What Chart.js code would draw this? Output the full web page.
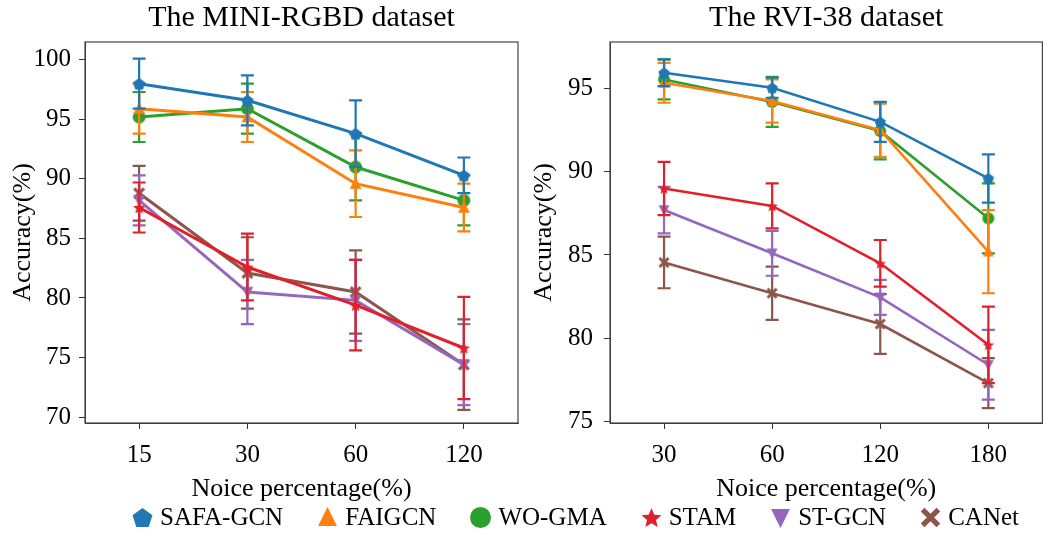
<!DOCTYPE html>
<html lang="en">
<head>
    <meta charset="UTF-8">
    <title>Accuracy vs noise percentage</title>
    <script src="https://cdn.jsdelivr.net/npm/chart.js"></script>
    <style>
        body { margin: 0; background: #fff; width: 1051px; height: 536px; position: relative; overflow: hidden;
               font-family: "Liberation Serif", "DejaVu Serif", serif; }
        #leftWrap { position: absolute; left: 0; top: 0; width: 530px; height: 505px; }
        #rightWrap { position: absolute; left: 525px; top: 0; width: 526px; height: 505px; }
        #legend { position: absolute; left: 131px; top: 502px; height: 30px; width: max-content;
                  display: flex; align-items: center; white-space: nowrap; }
        .item { display: flex; align-items: center; flex-shrink: 0; margin-right: 33px; color: #000;
                font-family: "Liberation Serif", serif; font-size: 25px; }
        .item canvas { margin-right: 6px; }
    </style>
</head>
<body>
    <div id="leftWrap"><canvas id="leftChart" width="530" height="505"></canvas></div>
    <div id="rightWrap"><canvas id="rightChart" width="526" height="505"></canvas></div>
    <div id="legend"></div>

    <script>
        // categories
        const miniNoise = ['15', '30', '60', '120'];
        const rviNoise = ['30', '60', '120', '180'];
        const miniTicks = [70, 75, 80, 85, 90, 95, 100];
        const rviTicks = [75, 80, 85, 90, 95];

        const names = ['SAFA-GCN', 'FAIGCN', 'WO-GMA', 'STAM', 'ST-GCN', 'CANet'];
        const colors = ['#1f77b4', '#ff7f0e', '#2ca02c', '#e0202a', '#9467bd', '#8c564b'];
        const shapes = ['pentagon', 'triangle', 'circle', 'star', 'triangleDown', 'x'];

        // MINI-RGBD values and errors
        const safaMini = [98.0, 96.6, 93.8, 90.3];
        const faiMini = [95.9, 95.2, 89.6, 87.6];
        const woMini = [95.2, 95.9, 91.0, 88.2];
        const stamMini = [87.6, 82.6, 79.4, 75.8];
        const stMini = [88.2, 80.5, 79.8, 74.4];
        const caMini = [88.8, 82.1, 80.5, 74.4];
        const safaMiniErr = [2.1, 2.1, 2.8, 1.5];
        const faiMiniErr = [2.1, 2.1, 2.8, 2.0];
        const woMiniErr = [2.1, 2.1, 2.8, 2.1];
        const stamMiniErr = [2.1, 2.8, 3.8, 4.3];
        const stMiniErr = [2.1, 2.7, 3.4, 3.4];
        const caMiniErr = [2.3, 3.0, 3.5, 3.8];

        // RVI-38 values and errors
        const safaRvi = [95.95, 95.05, 93.0, 89.6];
        const faiRvi = [95.35, 94.25, 92.5, 85.2];
        const woRvi = [95.55, 94.2, 92.45, 87.2];
        const stamRvi = [89.0, 87.95, 84.5, 79.6];
        const stRvi = [87.7, 85.1, 82.45, 78.4];
        const caRvi = [84.55, 82.7, 80.85, 77.3];
        const safaRviErr = [0.8, 0.6, 1.2, 1.45];
        const faiRviErr = [1.2, 1.3, 1.6, 2.5];
        const woRviErr = [1.2, 1.5, 1.7, 2.1];
        const stamRviErr = [1.6, 1.35, 1.4, 2.3];
        const stRviErr = [1.4, 1.35, 1.05, 2.1];
        const caRviErr = [1.55, 1.6, 1.8, 1.5];

        const serif = '"Liberation Serif", "DejaVu Serif", serif';

        function makeMarker(shape, color, r) {
            const c = document.createElement('canvas');
            c.width = c.height = Math.ceil(r * 2 + 2);
            const g = c.getContext('2d');
            const m = c.width / 2;
            g.fillStyle = color;
            g.strokeStyle = color;
            g.beginPath();
            if (shape === 'circle') {
                g.arc(m, m, r, 0, Math.PI * 2);
            } else if (shape === 'pentagon') {
                for (let i = 0; i < 5; i++) {
                    const a = -Math.PI / 2 + i * 2 * Math.PI / 5;
                    g.lineTo(m + r * Math.cos(a), m + r * Math.sin(a) + r * 0.1);
                }
            } else if (shape === 'triangle') {
                g.moveTo(m, m - r); g.lineTo(m + r * 0.9, m + r * 0.8); g.lineTo(m - r * 0.9, m + r * 0.8);
            } else if (shape === 'triangleDown') {
                g.moveTo(m, m + r); g.lineTo(m + r * 0.9, m - r * 0.8); g.lineTo(m - r * 0.9, m - r * 0.8);
            } else if (shape === 'star') {
                for (let i = 0; i < 10; i++) {
                    const a = -Math.PI / 2 + i * Math.PI / 5;
                    const rr = i % 2 ? r * 0.45 : r;
                    g.lineTo(m + rr * Math.cos(a), m + rr * Math.sin(a) + r * 0.1);
                }
            } else if (shape === 'x') {
                g.lineWidth = r * 0.5;
                const d = r * 0.75;
                g.moveTo(m - d, m - d); g.lineTo(m + d, m + d);
                g.moveTo(m + d, m - d); g.lineTo(m - d, m + d);
                g.stroke();
                return c;
            }
            g.closePath();
            g.fill();
            return c;
        }

        const errorBars = {
            id: 'errorBars',
            beforeDatasetDraw(chart, args) {
                const ds = chart.data.datasets[args.index];
                const yScale = chart.scales.y;
                const ctx = chart.ctx;
                const cap = 6.5;
                ctx.save();
                ctx.strokeStyle = ds.borderColor;
                ctx.lineWidth = 2.2;
                args.meta.data.forEach((pt, i) => {
                    const hi = yScale.getPixelForValue(ds.data[i] + ds.errors[i]);
                    const lo = yScale.getPixelForValue(ds.data[i] - ds.errors[i]);
                    ctx.beginPath();
                    ctx.moveTo(pt.x, hi); ctx.lineTo(pt.x, lo);
                    ctx.moveTo(pt.x - cap, hi); ctx.lineTo(pt.x + cap, hi);
                    ctx.moveTo(pt.x - cap, lo); ctx.lineTo(pt.x + cap, lo);
                    ctx.stroke();
                });
                ctx.restore();
            }
        };

        const frame = {
            id: 'frame',
            afterDraw(chart) {
                const a = chart.chartArea;
                const ctx = chart.ctx;
                ctx.save();
                ctx.strokeStyle = '#444';
                ctx.lineWidth = 1.2;
                ctx.strokeRect(a.left, a.top, a.right - a.left, a.bottom - a.top);
                ctx.restore();
            }
        };

        function buildChart(id, title, labels, values, errors, ticks, yMin, yMax, opts) {
            const datasets = values.map((v, k) => ({
                label: names[k],
                data: v,
                errors: errors[k],
                borderColor: colors[k],
                backgroundColor: colors[k],
                borderWidth: opts.lineWidth,
                pointStyle: makeMarker(shapes[k], colors[k], opts.marker),
                pointRadius: opts.marker,
                tension: 0
            }));
            return new Chart(document.getElementById(id), {
                type: 'line',
                data: { labels: labels, datasets: datasets },
                options: {
                    responsive: false,
                    animation: false,
                    layout: { padding: { right: opts.padRight, bottom: 0 } },
                    plugins: {
                        legend: { display: false },
                        tooltip: { enabled: false },
                        title: {
                            display: true,
                            fullSize: false,
                            text: title,
                            color: '#000',
                            font: { family: serif, size: 30, weight: 'normal', lineHeight: 1.2 },
                            padding: { top: 0, bottom: 6 }
                        }
                    },
                    scales: {
                        x: {
                            offset: true,
                            grid: { drawOnChartArea: false, tickLength: 6, color: '#333' },
                            border: { color: '#333' },
                            ticks: { color: '#000', padding: 11, font: { family: serif, size: 25 } },
                            title: { display: true, text: 'Noice percentage(%)', color: '#000',
                                     font: { family: serif, size: 26, lineHeight: 1.2 }, padding: { bottom: 0 } },
                            afterFit: s => { s.height = 82; }
                        },
                        y: {
                            min: yMin,
                            max: yMax,
                            grid: { drawOnChartArea: false, tickLength: 6, color: '#333' },
                            border: { color: '#333' },
                            ticks: { color: '#000', padding: opts.tickPad, font: { family: serif, size: 25 } },
                            afterBuildTicks: s => { s.ticks = ticks.map(v => ({ value: v })); },
                            title: { display: true, text: 'Accuracy(%)', color: '#000',
                                     font: { family: serif, size: 26, lineHeight: 1.2 }, padding: { top: opts.titlePad } },
                            afterFit: s => { s.width = 85; }
                        }
                    }
                },
                plugins: [errorBars, frame]
            });
        }

        buildChart('leftChart', 'The MINI-RGBD dataset', miniNoise,
            [safaMini, faiMini, woMini, stamMini, stMini, caMini],
            [safaMiniErr, faiMiniErr, woMiniErr, stamMiniErr, stMiniErr, caMiniErr],
            miniTicks, 69.5, 101.5, { lineWidth: 3, marker: 6.5, padRight: 12, tickPad: 8, titlePad: 8 });

        buildChart('rightChart', 'The RVI-38 dataset', rviNoise,
            [safaRvi, faiRvi, woRvi, stamRvi, stRvi, caRvi],
            [safaRviErr, faiRviErr, woRviErr, stamRviErr, stRviErr, caRviErr],
            rviTicks, 74.9, 97.8, { lineWidth: 2.6, marker: 6, padRight: 5, tickPad: 11, titlePad: 4 });

        // legend under both panels
        const legend = document.getElementById('legend');
        names.forEach((n, k) => {
            const item = document.createElement('div');
            item.className = 'item';
            item.appendChild(makeMarker(shapes[k], colors[k], 10.5));
            const span = document.createElement('span');
            span.textContent = n;
            item.appendChild(span);
            legend.appendChild(item);
        });
    </script>
</body>
</html>
